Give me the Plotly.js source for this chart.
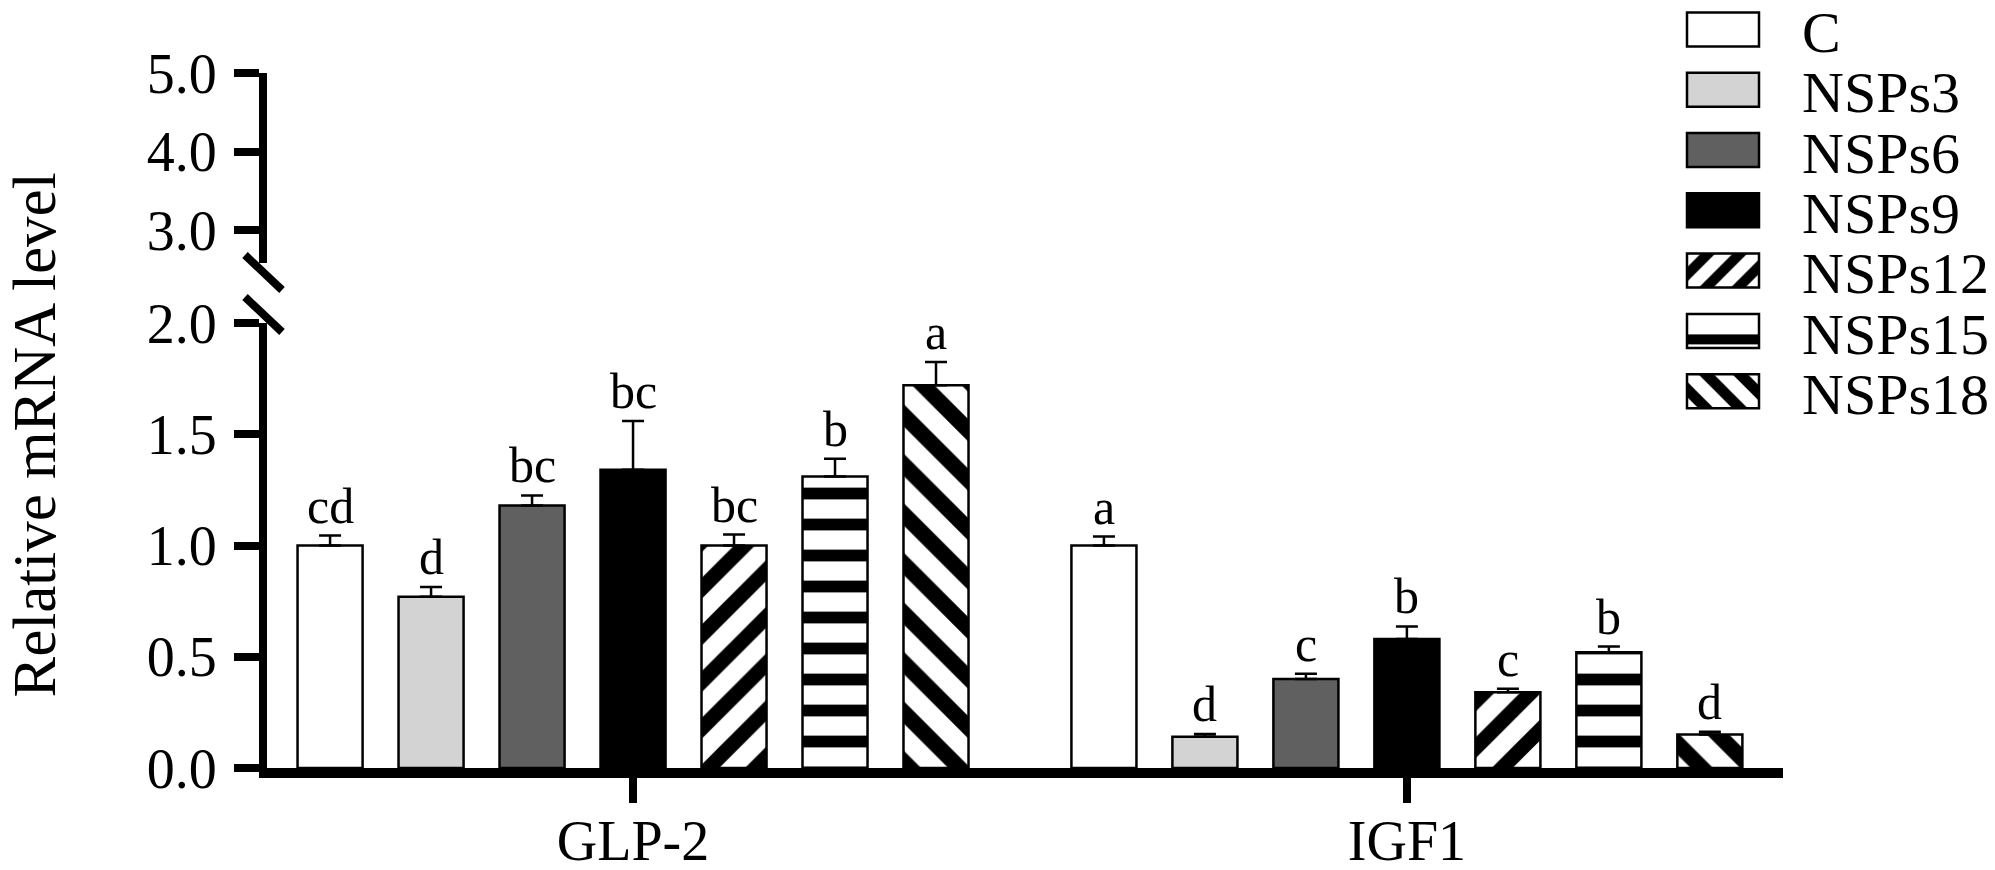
<!DOCTYPE html>
<html>
<head>
<meta charset="utf-8">
<script src="https://cdn.plot.ly/plotly-3.0.1.min.js"></script>
<style>
  html, body { margin: 0; padding: 0; background: #fff; }
  #chart { width: 1995px; height: 870px; }
</style>
</head>
<body>
<div id="chart"></div>
<script>
// genes on the x axis and treatment groups
const genes = ['GLP-2', 'IGF1'];
const groups = ['C', 'NSPs3', 'NSPs6', 'NSPs9', 'NSPs12', 'NSPs15', 'NSPs18'];

// relative mRNA level (mean) and SEM
const glp2Mean = [1.00, 0.77, 1.18, 1.34, 1.00, 1.31, 1.72];
const glp2Err = [0.045, 0.044, 0.045, 0.22, 0.049, 0.08, 0.105];
const igf1Mean = [1.00, 0.14, 0.40, 0.58, 0.34, 0.52, 0.15];
const igf1Err = [0.04, 0.013, 0.024, 0.056, 0.016, 0.026, 0.013];

// significance letters
const glp2Letters = ['cd', 'd', 'bc', 'bc', 'bc', 'b', 'a'];
const igf1Letters = ['a', 'd', 'c', 'b', 'c', 'b', 'd'];

// fill styles per group
const fills = ['#ffffff', '#d3d3d3', '#606060', '#000000', '#ffffff', '#ffffff', '#ffffff'];
const patterns = ['', '', '', '', '/', '-', '\\'];
const patternSizes = [8, 8, 8, 8, 33, 31, 35];
const patternSolid = [0.3, 0.3, 0.3, 0.3, 0.45, 0.38, 0.45];

const FONT = '"Liberation Serif", "Times New Roman", serif';
const bargap = 0.0865;
const slot = (1 - bargap) / groups.length;

// paper positions of the two y segments
const lowTop = 0.6285;
const upBottom = 0.7133;

const traces = groups.map((name, i) => {
    const marker = {
        color: fills[i],
        line: { color: '#000', width: 2.5 }
    };
    if (patterns[i]) {
        marker.pattern = {
            shape: patterns[i],
            size: patternSizes[i],
            solidity: patternSolid[i],
            fgcolor: '#000',
            bgcolor: '#fff',
            fillmode: 'replace'
        };
    }
    return {
        type: 'bar',
        name: name,
        x: genes,
        y: [glp2Mean[i], igf1Mean[i]],
        marker: marker,
        error_y: {
            type: 'data',
            symmetric: false,
            array: [glp2Err[i], igf1Err[i]],
            arrayminus: [0, 0],
            color: '#000',
            thickness: 2.5,
            width: 11
        },
        legend: i === 0 ? 'legend' : 'legend' + (i + 1),
        hoverinfo: 'skip'
    };
});

// empty trace so the upper (broken) segment of the y axis gets its subplot
traces.push({
    type: 'scatter', mode: 'markers',
    x: genes, y: [null, null],
    yaxis: 'y2', showlegend: false, hoverinfo: 'skip'
});

// letters above the error bars
const annotations = [];
genes.forEach((g, gi) => {
    const means = gi === 0 ? glp2Mean : igf1Mean;
    const errs = gi === 0 ? glp2Err : igf1Err;
    const letters = gi === 0 ? glp2Letters : igf1Letters;
    groups.forEach((name, i) => {
        annotations.push({
            xref: 'x', yref: 'y',
            x: gi + (i - (groups.length - 1) / 2) * slot,
            y: means[i] + errs[i],
            text: letters[i],
            showarrow: false,
            xanchor: 'center', yanchor: 'bottom',
            yshift: 0,
            font: { family: FONT, size: 50, color: '#000' }
        });
    });
});

annotations.push({
    xref: 'paper', yref: 'paper',
    x: -0.1535, y: 0.47,
    text: 'Relative mRNA level',
    textangle: -90,
    showarrow: false,
    xanchor: 'center', yanchor: 'middle',
    font: { family: FONT, size: 61, color: '#000' }
});

// axis break marks
const shapes = [
    { type: 'line', xref: 'paper', xsizemode: 'pixel', xanchor: 0, x0: -22, x1: 15,
      yref: 'paper', ysizemode: 'pixel', yanchor: lowTop, y0: 26, y1: -9,
      line: { color: '#000', width: 8 } },
    { type: 'line', xref: 'paper', xsizemode: 'pixel', xanchor: 0, x0: -22, x1: 15,
      yref: 'paper', ysizemode: 'pixel', yanchor: upBottom, y0: 8, y1: -27,
      line: { color: '#000', width: 8 } }
];

const yCommon = {
    showline: true, linecolor: '#000', linewidth: 8,
    ticks: 'outside', ticklen: 25, tickwidth: 8, tickcolor: '#000',
    tickformat: '.1f',
    showgrid: false, zeroline: false,
    ticklabelstandoff: 6,
    tickfont: { family: FONT, size: 56, color: '#000' },
    fixedrange: true
};

const layout = {
    width: 1995, height: 870,
    margin: { l: 267, r: 212, t: 60, b: 102, autoexpand: false },
    paper_bgcolor: '#fff', plot_bgcolor: 'rgba(0,0,0,0)',
    barmode: 'group',
    bargap: bargap,
    bargroupgap: 0.356,
    xaxis: {
        type: 'category',
        range: [-0.473, 1.486],
        showline: true, linecolor: '#000', linewidth: 10,
        ticks: 'outside', ticklen: 25, tickwidth: 8, tickcolor: '#000',
        showgrid: false, zeroline: false,
        ticklabelstandoff: -10,
        tickfont: { family: FONT, size: 56, color: '#000' },
        fixedrange: true
    },
    yaxis: Object.assign({}, yCommon, {
        domain: [0, lowTop], range: [0, 2], dtick: 0.5, tick0: 0
    }),
    yaxis2: Object.assign({}, yCommon, {
        domain: [upBottom, 0.9816], range: [2.58, 5], tickvals: [3, 4, 5], anchor: 'x'
    }),
    annotations: annotations,
    shapes: shapes,
    showlegend: true
};

// one legend box per group so rows can sit closer than the font height
groups.forEach((name, i) => {
    const key = i === 0 ? 'legend' : 'legend' + (i + 1);
    layout[key] = {
        xref: 'container', yref: 'container',
        x: 1644 / 1995, xanchor: 'left',
        y: 1 - (29.7 + i * 60.3) / 870, yanchor: 'middle',
        bgcolor: 'rgba(0,0,0,0)', borderwidth: 0,
        itemwidth: 148,
        font: { family: FONT, size: 58, color: '#000' }
    };
});

// legend hatch tile sizes and offsets, like the figure's swatches
const legendTile = { '/': [32, 0, 0], '-': [40, 0, -11.5], '\\': [34, 0, 0] };

Plotly.newPlot('chart', traces, layout, { displayModeBar: false, staticPlot: true }).then(function () {
    document.querySelectorAll('.legendpoints path').forEach(function (p) {
        p.setAttribute('d', 'M36,17H-36V-17H36Z');
        p.style.strokeWidth = '2.5px';
        const fill = p.style.fill || p.getAttribute('fill') || '';
        const m = fill.match(/#([^"')]+)/);
        if (!m) return;
        const pat = document.getElementById(m[1]);
        if (!pat) return;
        const trace = p.closest('.traces');
        const name = trace ? trace.textContent : '';
        const idx = groups.indexOf(name.trim());
        const shape = idx >= 0 ? patterns[idx] : '';
        if (!legendTile[shape]) return;
        const w = parseFloat(pat.getAttribute('width')) || 10;
        const t = legendTile[shape];
        const s = t[0] / w;
        pat.setAttribute('patternTransform', 'translate(' + t[1] + ',' + t[2] + ') scale(' + s + ')');
        if (shape === '-') {
            pat.querySelectorAll('path').forEach(function (q) {
                q.setAttribute('stroke-width', 10 / s);
                q.style.strokeWidth = (10 / s) + 'px';
            });
        }
    });
});
</script>
</body>
</html>
